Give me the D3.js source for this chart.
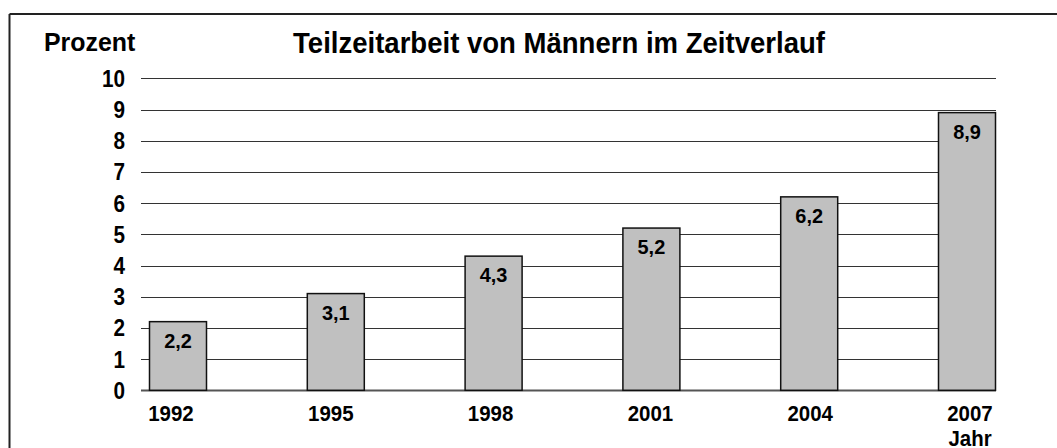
<!DOCTYPE html>
<html>
<head>
<meta charset="utf-8">
<script src="https://cdn.jsdelivr.net/npm/d3@7"></script>
<style>
  body { margin: 0; background: #fff; }
  svg text { font-family: "Liberation Sans", Arial, sans-serif; font-weight: bold; fill: #000; }
</style>
</head>
<body>
<svg id="chart"></svg>
<script>
// data
const years  = ["1992", "1995", "1998", "2001", "2004", "2007"];
const values = [2.2, 3.1, 4.3, 5.2, 6.2, 8.9];
const valueLabels = ["2,2", "3,1", "4,3", "5,2", "6,2", "8,9"];
const yTicks = [0, 1, 2, 3, 4, 5, 6, 7, 8, 9, 10];

const width = 1057;
const height = 448;

const svg = d3.select('svg#chart').attr('width', width).attr('height', height);

// the original font is a bit narrower, so squeeze text horizontally
const place = (px, py, sx) => `translate(${px},${py}) scale(${sx},1)`;

// frame (top and left edges only visible)
svg.append('line').attr('x1', 9.5).attr('x2', width).attr('y1', 14).attr('y2', 14)
    .attr('stroke', '#222').attr('stroke-width', 2);
svg.append('line').attr('x1', 9.5).attr('x2', 9.5).attr('y1', 14).attr('y2', height)
    .attr('stroke', '#222').attr('stroke-width', 2);

const y = d3.scaleLinear().domain([0, 10]).range([390.3, 78.3]);
const x = d3.scalePoint().domain(years).range([178, 967]);
const xLab = d3.scalePoint().domain(years).range([171, 970]);
const barW = 57;
const gridX0 = 141, gridX1 = 996;

// gridlines
svg.selectAll('.grid')
    .data(yTicks)
    .enter().append('line')
    .attr('class', 'grid')
    .attr('x1', gridX0).attr('x2', gridX1)
    .attr('y1', d => Math.round(y(d)) + 0.5)
    .attr('y2', d => Math.round(y(d)) + 0.5)
    .attr('stroke', d => d === 0 ? '#555' : '#333')
    .attr('stroke-width', d => d === 0 ? 2 : 1.2);

// y tick labels
svg.selectAll('.ytick')
    .data(yTicks)
    .enter().append('text')
    .attr('class', 'ytick')
    .attr('transform', d => place(125, y(d) + 8.5, 0.9))
    .attr('text-anchor', 'end')
    .style('font-size', '23px')
    .text(d => d);

// bars
svg.selectAll('.bar')
    .data(values)
    .enter().append('rect')
    .attr('class', 'bar')
    .attr('x', (d, i) => x(years[i]) - barW / 2)
    .attr('y', d => y(d))
    .attr('width', barW)
    .attr('height', d => y(0) - y(d))
    .attr('fill', '#c0c0c0')
    .attr('stroke', '#111')
    .attr('stroke-width', 1.5);

// value labels
svg.selectAll('.vlab')
    .data(values)
    .enter().append('text')
    .attr('class', 'vlab')
    .attr('transform', (d, i) => place(x(years[i]), y(d) + 26, 0.95))
    .attr('text-anchor', 'middle')
    .style('font-size', '21px')
    .text((d, i) => valueLabels[i]);

// x labels
svg.selectAll('.xlab')
    .data(years)
    .enter().append('text')
    .attr('class', 'xlab')
    .attr('transform', d => place(xLab(d), 421, 0.93))
    .attr('text-anchor', 'middle')
    .style('font-size', '22px')
    .text(d => d);

svg.append('text')
    .attr('transform', place(xLab('2007'), 446, 0.93))
    .attr('text-anchor', 'middle')
    .style('font-size', '22px')
    .text('Jahr');

// axis title + chart title
svg.append('text')
    .attr('transform', place(44, 51, 0.94))
    .style('font-size', '26.5px')
    .text('Prozent');

svg.append('text')
    .attr('transform', place(559, 53, 0.95))
    .attr('text-anchor', 'middle')
    .style('font-size', '29px')
    .text('Teilzeitarbeit von Männern im Zeitverlauf');
</script>
</body>
</html>
